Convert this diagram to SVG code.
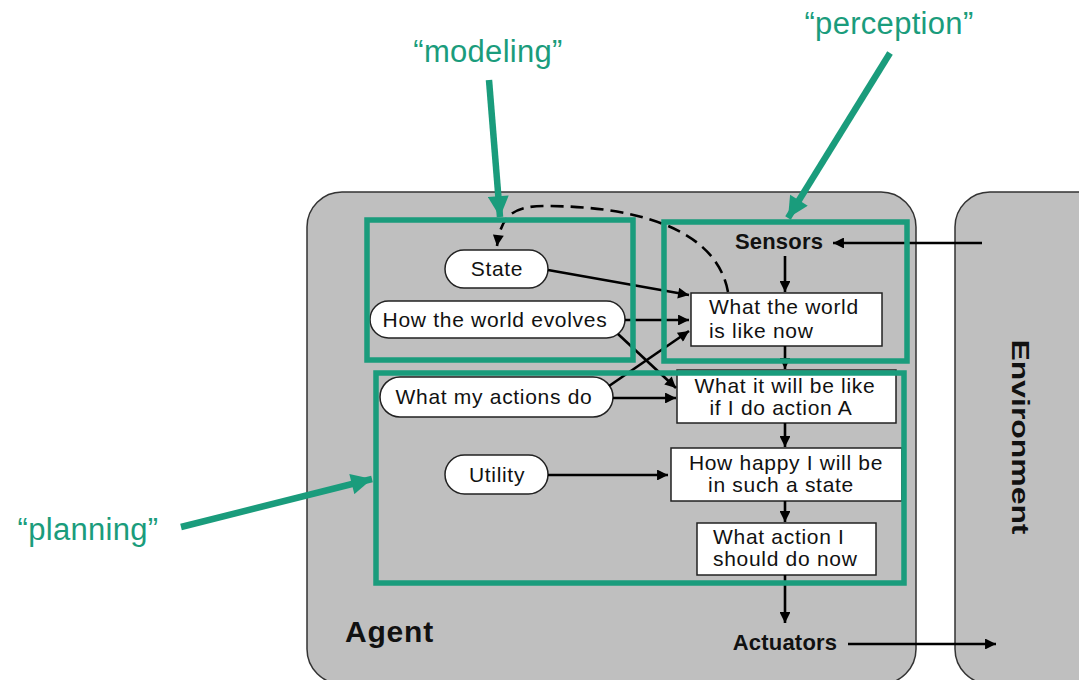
<svg xmlns="http://www.w3.org/2000/svg" width="1079" height="680" viewBox="0 0 1079 680">
<style>
.box{fill:#bfbfbf;stroke:#333;stroke-width:1.5}
.pill{fill:#fff;stroke:#222;stroke-width:1.5}
.rect{fill:#fff;stroke:#222;stroke-width:1.5}
.t{font-family:"Liberation Sans",Arial,sans-serif;font-size:21px;letter-spacing:0.7px;fill:#111}
.m{text-anchor:middle}
.b{font-family:"Liberation Sans",Arial,sans-serif;font-weight:bold;fill:#111}
.g{font-family:"Liberation Sans",Arial,sans-serif;font-size:31px;letter-spacing:0.3px;fill:#1a9c7c;text-anchor:middle}
.frame{fill:none;stroke:#1a9c7c;stroke-width:5.5}
.c{fill:none;stroke:#000;stroke-width:2.6}
.ga{fill:none;stroke:#1a9c7c;stroke-width:6.5}
</style>
<defs>
<marker id="ah" viewBox="0 0 10 10" refX="10" refY="5" markerWidth="6.2" markerHeight="4.2" orient="auto" markerUnits="strokeWidth">
<path d="M0,0 L10,5 L0,10 z" fill="#000"/>
</marker>
<marker id="gh" viewBox="0 0 10 10" refX="10" refY="5" markerWidth="3.6" markerHeight="3.2" orient="auto" markerUnits="strokeWidth">
<path d="M0,0 L10,5 L0,10 z" fill="#1a9c7c"/>
</marker>
</defs>
<rect width="1079" height="680" fill="#fff"/>
<g id="agent">
<rect class="box" x="307" y="192" width="609" height="492" rx="35" ry="35"/>
<text class="b" x="345" y="642" font-size="30" letter-spacing="0.8">Agent</text>
</g>
<g id="environment">
<rect class="box" x="955" y="192" width="170" height="492" rx="35" ry="35"/>
<text class="b" transform="translate(1012,437) rotate(90)" text-anchor="middle" font-size="24" textLength="195" lengthAdjust="spacingAndGlyphs">Environment</text>
</g>
<g id="sensors"><text class="b" x="779" y="249" font-size="22" text-anchor="middle" letter-spacing="0.2">Sensors</text></g>
<g id="actuators"><text class="b" x="785" y="650" font-size="22" text-anchor="middle" letter-spacing="0.2">Actuators</text></g>
<g id="state">
<rect class="pill" x="445" y="250" width="103" height="38" rx="19"/>
<text class="t m" x="497" y="276">State</text>
</g>
<g id="evolves">
<rect class="pill" x="370" y="301" width="255" height="37" rx="18.5"/>
<text class="t m" x="495" y="327">How the world evolves</text>
</g>
<g id="actions">
<rect class="pill" x="380" y="377" width="233" height="40" rx="20"/>
<text class="t m" x="494" y="404">What my actions do</text>
</g>
<g id="utility">
<rect class="pill" x="445" y="455" width="103" height="39" rx="19.5"/>
<text class="t m" x="497" y="482">Utility</text>
</g>
<g id="worldnow">
<rect class="rect" x="691" y="293" width="191" height="53"/>
<text class="t" x="709" y="314">What the world</text>
<text class="t" x="709" y="338">is like now</text>
</g>
<g id="willbe">
<rect class="rect" x="677" y="370" width="219" height="53"/>
<text class="t m" x="785" y="393">What it will be like</text>
<text class="t m" x="781" y="415">if I do action A</text>
</g>
<g id="happy">
<rect class="rect" x="671" y="448" width="231" height="53"/>
<text class="t m" x="786" y="470">How happy I will be</text>
<text class="t m" x="781" y="492">in such a state</text>
</g>
<g id="whataction">
<rect class="rect" x="697" y="523" width="179" height="52"/>
<text class="t" x="713" y="544">What action I</text>
<text class="t" x="713" y="566">should do now</text>
</g>
<g id="connectors">
<line class="c" x1="982" y1="243" x2="833" y2="243" marker-end="url(#ah)"/>
<line class="c" x1="785" y1="256" x2="785" y2="292" marker-end="url(#ah)"/>
<line class="c" x1="548" y1="270" x2="689" y2="295" marker-end="url(#ah)"/>
<line class="c" x1="625" y1="320" x2="689" y2="320" marker-end="url(#ah)"/>
<line class="c" x1="609" y1="386" x2="689" y2="331" marker-end="url(#ah)"/>
<line class="c" x1="618" y1="334" x2="676" y2="388" marker-end="url(#ah)"/>
<line class="c" x1="613" y1="398" x2="676" y2="398" marker-end="url(#ah)"/>
<line class="c" x1="785" y1="346" x2="785" y2="369" marker-end="url(#ah)"/>
<line class="c" x1="785" y1="423" x2="785" y2="447" marker-end="url(#ah)"/>
<line class="c" x1="785" y1="501" x2="785" y2="522" marker-end="url(#ah)"/>
<line class="c" x1="785" y1="575" x2="785" y2="623" marker-end="url(#ah)"/>
<line class="c" x1="548" y1="475" x2="668" y2="475" marker-end="url(#ah)"/>
<line class="c" x1="848" y1="644" x2="996" y2="644" marker-end="url(#ah)"/>
<path class="c" d="M728 292 C716 226 630 206 545 206 C515 206 501 214 497 246" stroke-width="2.8" stroke-dasharray="13 7" marker-end="url(#ah)"/>
</g>
<g id="modeling">
<rect class="frame" x="367" y="220" width="266" height="140"/>
<text class="g" x="488" y="62">“modeling”</text>
<line class="ga" x1="489" y1="80" x2="500" y2="217" marker-end="url(#gh)"/>
</g>
<g id="perception">
<rect class="frame" x="664" y="222" width="243" height="139"/>
<text class="g" x="889" y="34">“perception”</text>
<line class="ga" x1="890" y1="53" x2="788" y2="218" marker-end="url(#gh)"/>
</g>
<g id="planning">
<rect class="frame" x="376" y="373" width="528" height="210"/>
<text class="g" x="88" y="540">“planning”</text>
<line class="ga" x1="181" y1="527" x2="372" y2="479" marker-end="url(#gh)"/>
</g>
</svg>
